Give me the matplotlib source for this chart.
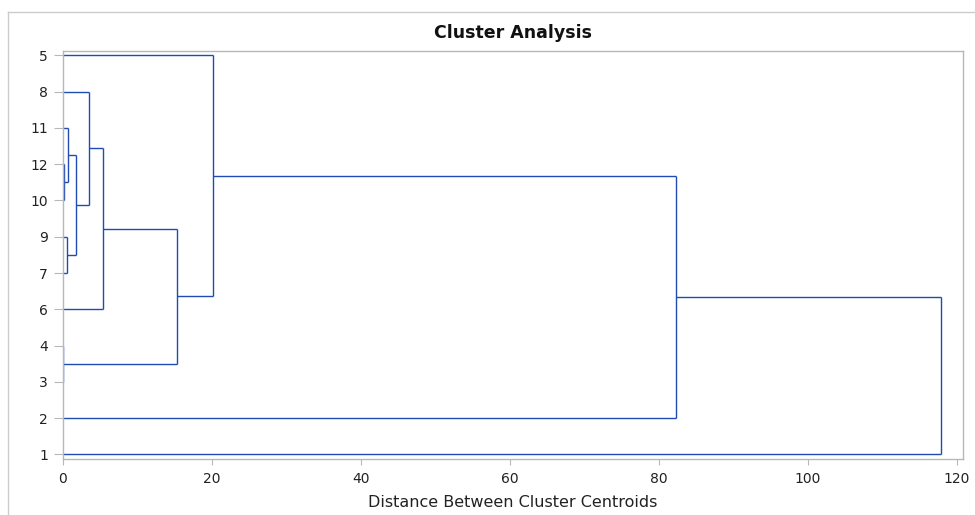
import matplotlib.pyplot as plt
from matplotlib.lines import Line2D

# leaves from top to bottom of the tree
leaves = ['5', '8', '11', '12', '10', '9', '7', '6', '4', '3', '2', '1']

# merge steps: (left, right, distance); a merge is named by its step index
merges = [
    ('12', '10', 0.21),
    ('11', 0, 0.67),
    ('9', '7', 0.54),
    (1, 2, 1.79),
    ('8', 3, 3.53),
    (4, '6', 5.37),
    ('4', '3', 0.0),
    (5, 6, 15.3),
    ('5', 7, 20.2),
    (8, '2', 82.3),
    (9, '1', 117.85),
]

xticks = [0, 20, 40, 60, 80, 100, 120]

line_col = '#1f4bb2'
grey = '#b4b8bc'
text_col = '#222222'

fig = plt.figure(figsize=(9.75, 5.15), dpi=100)
ax = fig.add_axes([0.0643, 0.1082, 0.9237, 0.7928])

# leaf positions: bottom leaf at 0
ypos = {lab: len(leaves) - 1 - i for i, lab in enumerate(leaves)}
height = {lab: 0.0 for lab in leaves}

for k, (a, b, d) in enumerate(merges):
    for c in (a, b):
        ax.plot([height[c], d], [ypos[c], ypos[c]], color=line_col, lw=1.0,
                solid_capstyle='butt')
    ax.plot([d, d], [ypos[a], ypos[b]], color=line_col, lw=1.0,
            solid_capstyle='butt')
    ypos[k] = (ypos[a] + ypos[b]) / 2
    height[k] = d

ax.set_xlim(0, 120.9)
ax.set_ylim(-0.138, len(leaves) - 1 + 0.124)
ax.set_xticks(xticks)
ax.set_yticks([ypos[lab] for lab in leaves])
ax.set_yticklabels(leaves)

for s in ax.spines.values():
    s.set_color(grey)
    s.set_linewidth(1.0)
ax.tick_params(axis='both', colors=grey, labelcolor=text_col, labelsize=10)
ax.tick_params(axis='y', length=6.5, pad=4)
ax.tick_params(axis='x', length=4.5, pad=5)

ax.set_xlabel('Distance Between Cluster Centroids', fontsize=11.5,
              color=text_col, labelpad=6)
ax.set_title('Cluster Analysis', fontsize=12.5, fontweight='bold',
             color='#111111', pad=9)

# outer frame of the graph area
fig.add_artist(Line2D([7.5 / 975, 1.0], [1 - 12 / 515, 1 - 12 / 515],
                      transform=fig.transFigure, color='#cccccc', lw=1.0))
fig.add_artist(Line2D([7.5 / 975, 7.5 / 975], [0.0, 1 - 12 / 515],
                      transform=fig.transFigure, color='#cccccc', lw=1.0))

fig.savefig('out.png', dpi=100)
